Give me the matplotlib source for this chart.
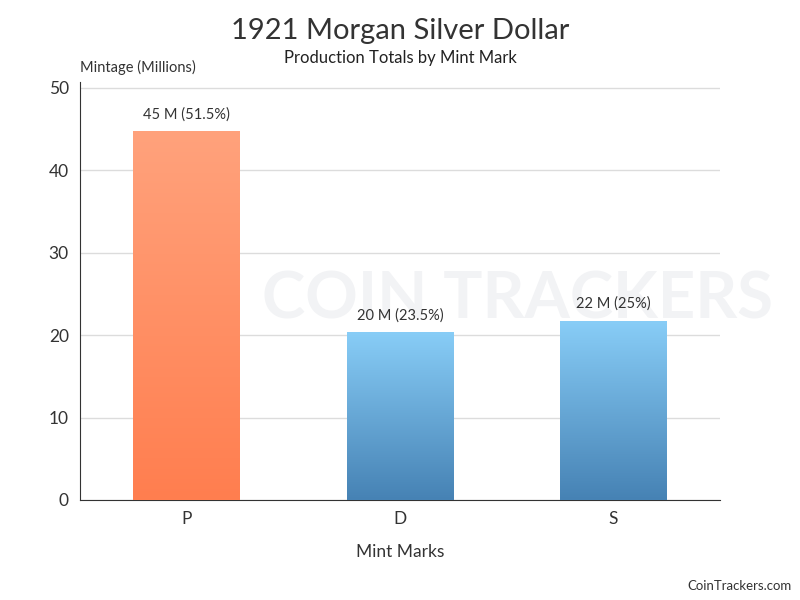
import matplotlib.pyplot as plt
import numpy as np
from matplotlib.colors import LinearSegmentedColormap

plt.rcParams.update({'font.family': ['Lato', 'DejaVu Sans']})

# Datos
mints = ['P', 'D', 'S']
mintage = [44.69, 20.345, 21.695]  # millones
bar_top = ['#ffa27c', '#88cdf7', '#88cdf7']
bar_bottom = ['#ff7e4f', '#4682b4', '#4682b4']

total = sum(mintage)

fig = plt.figure(figsize=(8, 6), dpi=100)
ax = fig.add_axes([0.1, 0.1667, 0.8, 0.6967])

# marca de agua (detrás de las barras)
ax.text(0.647, 0.5, 'COIN TRACKERS', fontsize=47, fontweight='bold',
        color='#f2f3f5', ha='center', va='center', zorder=0.5,
        transform=fig.transFigure, clip_on=False)

x = np.arange(len(mints))
width = 0.5
grad = np.linspace(1, 0, 256).reshape(-1, 1)
for xi, v, ct, cb, m in zip(x, mintage, bar_top, bar_bottom, mints):
    cmap = LinearSegmentedColormap.from_list('g', [cb, ct])
    ax.imshow(grad, cmap=cmap, aspect='auto', zorder=3,
              extent=(xi - width / 2, xi + width / 2, 0, v), interpolation='bicubic')
    pct = f"{v / total * 100:.1f}".rstrip('0').rstrip('.')
    ax.text(xi, v + 1.2, f"{v:.0f} M ({pct}%)", ha='center', va='bottom',
            fontsize=10.5, color='#333333', zorder=4)

ax.set_xlim(-0.5, 2.5)
ax.set_ylim(0, 50.7)
ax.set_xticks(x)
ax.set_xticklabels(mints)
ax.set_yticks(range(0, 51, 10))
ax.tick_params(length=0, labelsize=12.5, colors='#333333', pad=8)
ax.grid(axis='y', color='#dcdcdc', lw=1, zorder=1)
ax.set_axisbelow(True)
ax.patch.set_alpha(0)
for s in ['top', 'right']:
    ax.spines[s].set_visible(False)
ax.spines['left'].set_color('#333333')
ax.spines['bottom'].set_color('#333333')
ax.set_xlabel('Mint Marks', fontsize=12.5, color='#333333', labelpad=12)

fig.text(0.5, 0.948, '1921 Morgan Silver Dollar', ha='center', va='center',
         fontsize=21, color='#333333')
fig.text(0.5, 0.903, 'Production Totals by Mint Mark', ha='center', va='center',
         fontsize=12, color='#222222')
fig.text(0.1, 0.888, 'Mintage (Millions)', ha='left', va='center',
         fontsize=10.5, color='#333333')
fig.text(0.99, 0.023, 'CoinTrackers.com', ha='right', va='center',
         fontsize=9.5, color='#333333')

fig.savefig('out.png', dpi=100)
